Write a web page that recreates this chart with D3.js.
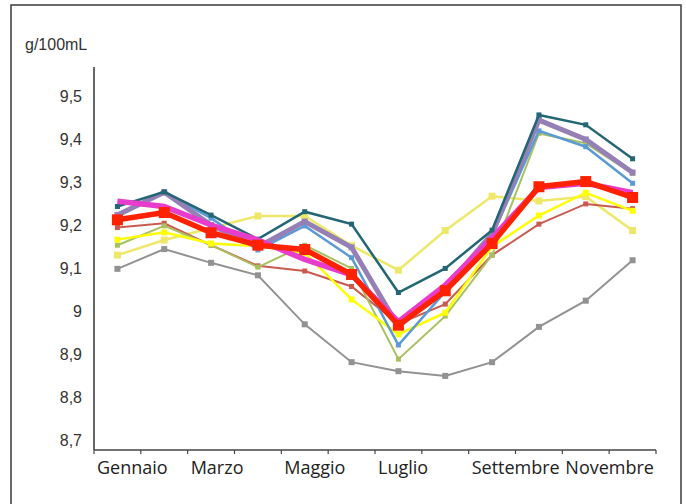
<!DOCTYPE html>
<html>
<head>
<meta charset="utf-8">
<script src="https://cdn.jsdelivr.net/npm/d3@7"></script>
<style>
  html, body { margin: 0; padding: 0; background: #fff; }
  svg { display: block; }
</style>
</head>
<body>
<div id="chart"></div>
<script>
// ── data ────────────────────────────────────────────────────────────────
const months = ["Gennaio", "Febbraio", "Marzo", "Aprile", "Maggio", "Giugno",
                "Luglio", "Agosto", "Settembre", "Ottobre", "Novembre", "Dicembre"];
const shownMonths = ["Gennaio", "Marzo", "Maggio", "Luglio", "Settembre", "Novembre"];
const yTicks = [8.7, 8.8, 8.9, 9.0, 9.1, 9.2, 9.3, 9.4, 9.5];
const unitLabel = "g/100mL";

const paleYellowVals = [9.130, 9.165, 9.193, 9.221, 9.221, 9.152, 9.095, 9.187, 9.267, 9.256, 9.266, 9.187];
const grayVals       = [9.098, 9.144, 9.112, 9.083, 8.969, 8.881, 8.860, 8.849, 8.881, 8.963, 9.024, 9.118];
const brownVals      = [9.194, 9.204, 9.153, 9.105, 9.093, 9.057, 8.970, 9.016, 9.130, 9.202, 9.249, 9.238];
const greenVals      = [9.153, 9.198, 9.153, 9.102, 9.153, 9.099, 8.888, 8.988, 9.130, 9.413, 9.390, 9.320];
const yellowVals     = [9.166, 9.183, 9.157, 9.151, 9.135, 9.027, 8.946, 8.996, 9.150, 9.222, 9.275, 9.233];
const blueVals       = [9.220, 9.275, 9.216, 9.142, 9.198, 9.124, 8.921, 9.045, 9.175, 9.419, 9.382, 9.297];
const purpleVals     = [9.223, 9.276, 9.200, 9.149, 9.208, 9.148, 8.964, 9.053, 9.180, 9.444, 9.399, 9.322];
const tealVals       = [9.243, 9.277, 9.223, 9.167, 9.231, 9.202, 9.043, 9.099, 9.188, 9.456, 9.433, 9.354];
const magentaVals    = [9.255, 9.243, 9.200, 9.165, 9.120, 9.084, 8.975, 9.060, 9.170, 9.287, 9.297, 9.275];
const redVals        = [9.212, 9.229, 9.182, 9.153, 9.143, 9.085, 8.967, 9.047, 9.157, 9.289, 9.301, 9.264];

// draw order: first = bottom
const series = [
  { vals: paleYellowVals, color: "#eee86a", width: 2.5, mark: 7  },
  { vals: grayVals,       color: "#929292", width: 2,   mark: 6  },
  { vals: brownVals,      color: "#c95a50", width: 2,   mark: 5  },
  { vals: greenVals,      color: "#a8c160", width: 2,   mark: 5  },
  { vals: yellowVals,     color: "#ffff00", width: 2.5, mark: 6  },
  { vals: blueVals,       color: "#5b9bd5", width: 2.5, mark: 5  },
  { vals: purpleVals,     color: "#9580b6", width: 5,   mark: 6  },
  { vals: tealVals,       color: "#236674", width: 2.5, mark: 5  },
  { vals: magentaVals,    color: "#e83dcc", width: 5.5, mark: 0  },
  { vals: redVals,        color: "#ff2200", width: 5.5, mark: 11 },
];

// ── layout ──────────────────────────────────────────────────────────────
const W = 686, H = 504;
const plotL = 94, plotR = 656, plotT = 67, plotB = 450;

const svg = d3.select("#chart").append("svg")
  .attr("width", W)
  .attr("height", H);

svg.append("rect")
   .attr("x", 11)
   .attr("y", 5)
   .attr("width", 670)
   .attr("height", 520)
   .attr("fill", "none")
   .attr("stroke", "#3a3a3a")
   .attr("stroke-width", 1.5);

const x = d3.scaleBand()
  .domain(months)
  .range([plotL, plotR])
  .padding(0);

const y = d3.scaleLinear()
  .domain([8.7, 9.5])
  .range([440, 96]);

const cx = m => x(m) + x.bandwidth() / 2;

// y tick labels (no tick marks)
svg.append("g")
   .selectAll("text")
   .data(yTicks)
   .join("text")
     .attr("x", 82)
     .attr("y", d => y(d))
     .attr("dy", "0.36em")
     .attr("text-anchor", "end")
     .attr("font-family", "'Liberation Sans', Arial, sans-serif")
     .attr("font-size", 16)
     .attr("fill", "#333")
     .text(d => d3.format(".1f")(d).replace(/\.0$/, "").replace(".", ","));

svg.append("text")
   .attr("x", 25)
   .attr("y", 50)
   .attr("font-family", "'Liberation Sans', Arial, sans-serif")
   .attr("font-size", 16)
   .attr("fill", "#333")
   .text(unitLabel);

// axes lines
svg.append("line")
   .attr("x1", plotL).attr("x2", plotL)
   .attr("y1", plotT).attr("y2", plotB)
   .attr("stroke", "#333")
   .attr("stroke-width", 1.5);

svg.append("line")
   .attr("x1", plotL).attr("x2", plotR)
   .attr("y1", plotB).attr("y2", plotB)
   .attr("stroke", "#444")
   .attr("stroke-width", 1.5);

// tick marks at category boundaries
const bounds = months.map(m => x(m)).concat([plotR]);
svg.append("g")
   .selectAll("line")
   .data(bounds)
   .join("line")
     .attr("x1", d => d).attr("x2", d => d)
     .attr("y1", plotB).attr("y2", plotB + 4)
     .attr("stroke", "#444")
     .attr("stroke-width", 1.2);

// x labels: left-aligned to the category, kept inside the axis
const xLabels = svg.append("g")
  .selectAll("text")
  .data(shownMonths)
  .join("text")
    .attr("y", 474)
    .attr("font-family", "'Open Sans', sans-serif")
    .attr("font-size", 18)
    .attr("fill", "#222")
    .text(d => d);

xLabels.each(function (d) {
  const w  = this.getComputedTextLength();
  const x0 = Math.min(x(d) + 3, plotR - w - 2);
  d3.select(this).attr("x", x0);
});

// lines
const line = d3.line()
  .x((d, i) => cx(months[i]))
  .y(d => y(d));

series.forEach(s => {
  const g = svg.append("g");

  g.append("path")
   .datum(s.vals)
   .attr("fill", "none")
   .attr("stroke", s.color)
   .attr("stroke-width", s.width)
   .attr("stroke-linejoin", "miter")
   .attr("d", line);

  if (s.mark > 0) {
    g.selectAll("rect")
     .data(s.vals)
     .join("rect")
       .attr("x", (d, i) => cx(months[i]) - s.mark / 2)
       .attr("y", d => y(d) - s.mark / 2)
       .attr("width", s.mark)
       .attr("height", s.mark)
       .attr("fill", s.color);
  }
});
</script>
</body>
</html>
